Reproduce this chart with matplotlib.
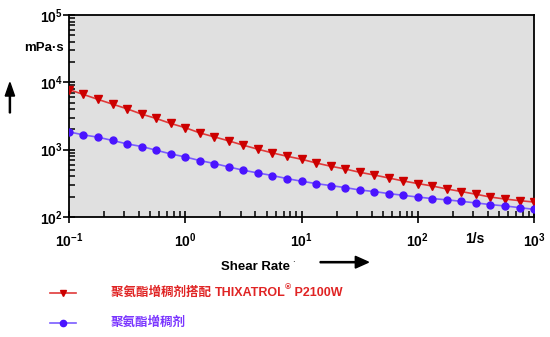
import matplotlib.pyplot as plt
from matplotlib.patches import FancyArrow
from matplotlib.ticker import FixedLocator, NullFormatter

plt.rcParams['font.family'] = ['Liberation Sans', 'DejaVu Sans']
plt.rcParams['mathtext.fontset'] = 'custom'
plt.rcParams['mathtext.bf'] = 'Liberation Sans:bold'
plt.rcParams['mathtext.rm'] = 'Liberation Sans'

# shear rate, 1/s (8 points per decade)
shear_rate = [0.1, 0.133, 0.178, 0.237, 0.316, 0.422, 0.562, 0.75,
              1.0, 1.33, 1.78, 2.37, 3.16, 4.22, 5.62, 7.5,
              10, 13.3, 17.8, 23.7, 31.6, 42.2, 56.2, 75,
              100, 133, 178, 237, 316, 422, 562, 750, 1000]

# viscosity, mPa·s
visc_with_p2100w = [7800, 6610, 5570, 4745, 4040, 3370, 2908, 2449,
                    2122, 1776, 1548, 1350, 1165, 1016, 895, 799,
                    721, 636, 568, 517, 462, 421, 380, 343,
                    314, 289, 261, 239, 218, 198, 185, 175, 167]
visc_pu_only = [1838, 1658, 1532, 1369, 1218, 1114, 982, 865,
                780, 690, 623, 554, 495, 451, 413, 372,
                340, 314, 293, 274, 252, 239, 223, 210,
                198, 188, 180, 171, 162, 153, 146, 138, 130]

x_ticks = [0.1, 1, 10, 100, 1000]
x_ticklabels = ['$\\mathbf{10^{-1}}$', '$\\mathbf{10^{0}}$', '$\\mathbf{10^{1}}$',
                '$\\mathbf{10^{2}}$', '$\\mathbf{10^{3}}$']
y_ticks = [100, 1000, 1e4, 1e5]
y_ticklabels = ['$\\mathbf{10^{2}}$', '$\\mathbf{10^{3}}$', '$\\mathbf{10^{4}}$',
                '$\\mathbf{10^{5}}$']

# legend labels, split into pieces so the ® can be raised:
# (text, font size, vertical offset in points)
label_parts = [
    [('聚氨酯增稠剂搭配 ', 9, 0), ('THIXATROL', 9, 0), ('®', 6, 4), (' P2100W', 9, 0)],
    [('聚氨酯增稠剂', 9, 0)],
]
line_colors = ['#e03a3a', '#7a5cff']
marker_colors = ['#cc0000', '#4a14ff']
text_colors = ['#e02424', '#7a35ff']
text_family = ['Liberation Sans', 'Noto Sans CJK SC']

fig = plt.figure(figsize=(5.5, 3.37), dpi=100)
ax = fig.add_axes([0.1255, 0.356, 0.8455, 0.5995])
ax.set_facecolor('#e0e0e0')

ax.plot(shear_rate, visc_with_p2100w, color=line_colors[0], lw=1.2,
        marker='v', ms=6, mfc=marker_colors[0], mec=marker_colors[0], zorder=3)
ax.plot(shear_rate, visc_pu_only, color=line_colors[1], lw=1.2,
        marker='o', ms=5, mfc=marker_colors[1], mec=marker_colors[1], zorder=3)

ax.set_xscale('log')
ax.set_yscale('log')
ax.set_xlim(0.1, 1000)
ax.set_ylim(100, 1e5)

for s in ax.spines.values():
    s.set_linewidth(1.3)
    s.set_color('black')

# minor ticks at 2..9 of every decade
x_minor = [m * 10.0 ** e for e in range(-1, 3) for m in range(2, 10)]
y_minor = [m * 10.0 ** e for e in range(2, 5) for m in range(2, 10)]
ax.xaxis.set_major_locator(FixedLocator(x_ticks))
ax.yaxis.set_major_locator(FixedLocator(y_ticks))
ax.xaxis.set_minor_locator(FixedLocator(x_minor))
ax.yaxis.set_minor_locator(FixedLocator(y_minor))
ax.xaxis.set_minor_formatter(NullFormatter())
ax.yaxis.set_minor_formatter(NullFormatter())
ax.set_xticklabels(x_ticklabels)
ax.set_yticklabels(y_ticklabels)

ax.tick_params(which='major', direction='inout', length=9, width=1.2,
               labelsize=10, colors='black')
ax.tick_params(which='minor', direction='in', length=4.5, width=1.1,
               color='black', bottom=True, left=True)
ax.tick_params(axis='x', which='major', pad=6)
ax.tick_params(axis='y', which='major', pad=0)
ax.tick_params(top=False, right=False, which='both')
ax.set_axisbelow(False)

# axis titles and arrows
fig.text(0.080, 0.858, 'mPa·s', fontsize=9.5, fontweight='bold', ha='center', va='center')
fig.text(0.864, 0.290, '1/s', fontsize=10, fontweight='bold', ha='center', va='center')
fig.text(0.464, 0.207, 'Shear Rate', fontsize=9.5, fontweight='bold', ha='center', va='center')
fig.text(0.533, 0.232, '.', fontsize=7, ha='center', va='center')
fig.patches.append(FancyArrow(
    0.018, 0.665, 0, 0.09, width=0.002, head_width=0.017, head_length=0.04,
    length_includes_head=True, color='black', transform=fig.transFigure, figure=fig))
fig.patches.append(FancyArrow(
    0.582, 0.222, 0.088, 0, width=0.0035, head_width=0.035, head_length=0.024,
    length_includes_head=True, color='black', transform=fig.transFigure, figure=fig))

# legend drawn by hand below the axes
renderer = fig.canvas.get_renderer()
legend_y = [0.131, 0.043]
legend_markers = ['v', 'o']
for y, parts, lc, mc, tc, mk in zip(legend_y, label_parts, line_colors, marker_colors,
                                    text_colors, legend_markers):
    fig.add_artist(plt.Line2D([0.091, 0.138], [y, y], color=lc, lw=1.2,
                              transform=fig.transFigure))
    fig.add_artist(plt.Line2D([0.1145], [y], marker=mk, ms=5 if mk == 'v' else 4.5,
                              color=mc, transform=fig.transFigure))
    x = 0.202
    for txt, size, rise in parts:
        t = fig.text(x, y + rise / 72 / 3.37, txt, fontsize=size, fontweight='bold',
                     color=tc, va='center', family=text_family)
        bb = t.get_window_extent(renderer=renderer)
        x += bb.width / fig.bbox.width

fig.savefig('out.png', dpi=100)
